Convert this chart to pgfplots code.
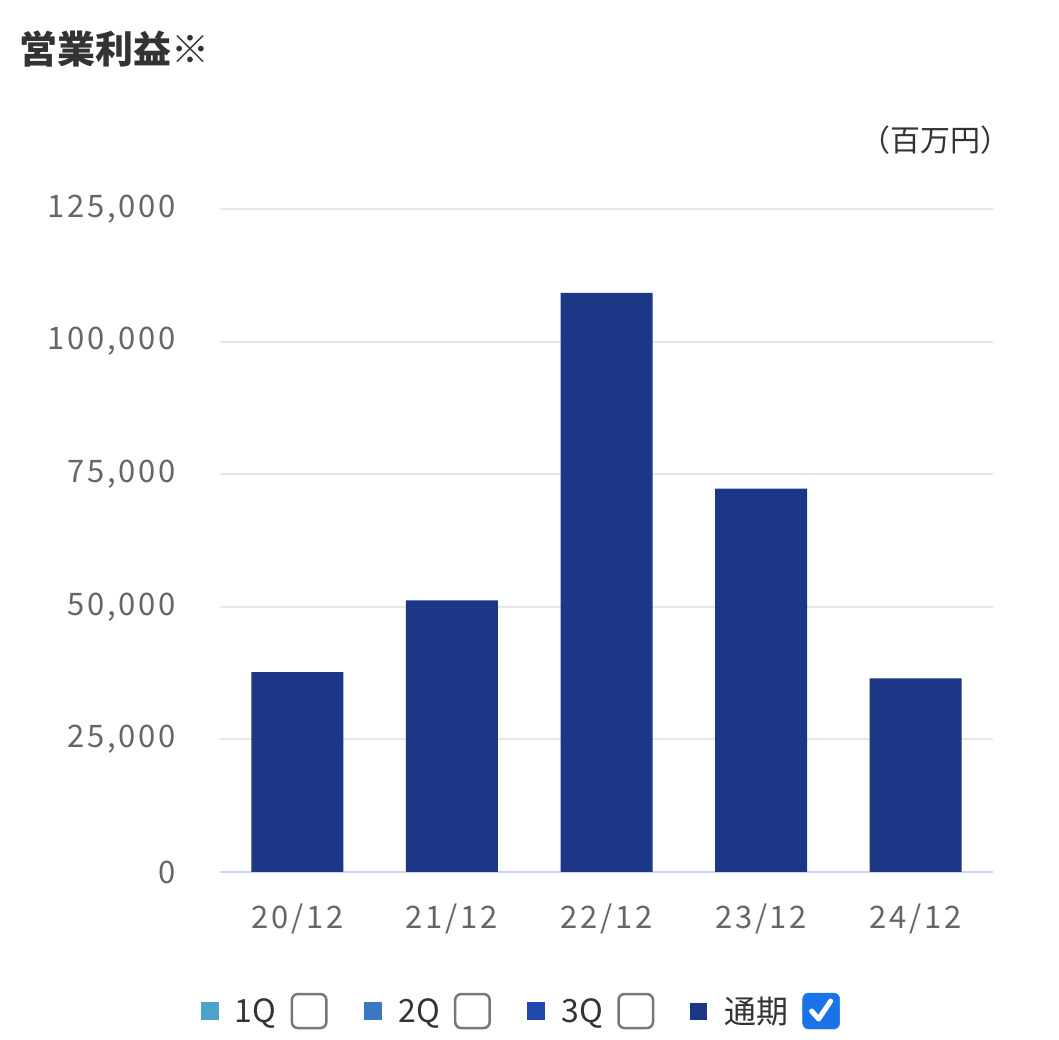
\documentclass[border=0pt]{standalone}
\usepackage{pgfplots}
\pgfplotsset{compat=1.18}
\usepackage{fontspec}
\setmainfont{Noto Sans CJK JP}
\newfontfamily\numfont[LetterSpace=9]{Noto Sans CJK JP}

\definecolor{barc}{HTML}{1B3786}
\definecolor{q1}{HTML}{4BA3C9}
\definecolor{q2}{HTML}{3A78C3}
\definecolor{q3}{HTML}{2148AE}
\definecolor{chk}{HTML}{1A73E8}
\definecolor{gridc}{HTML}{E6E6E6}
\definecolor{axc}{HTML}{CCD6EB}
\definecolor{lab}{HTML}{666666}
\definecolor{txt}{HTML}{333333}
\definecolor{boxc}{HTML}{777777}

\pgfplotsset{
  legsq/.style={legend image code/.code={
      \fill[#1] (0pt,-8.5pt) rectangle (17pt,8.5pt);
      \path (34pt,0pt);}},
  legbox/.style={legend image code/.code={
      \path (-14pt,0pt);
      \draw[boxc, line width=2.5pt, rounded corners=6pt] (1.25pt,-17pt) rectangle (35.75pt,17pt);
      \path (72pt,0pt);}},
  legchk/.style={legend image code/.code={
      \path (-14pt,0pt);
      \fill[chk, rounded corners=6pt] (0pt,-18pt) rectangle (37pt,18pt);
      \draw[white, line width=5pt, line cap=round, line join=round] (9pt,0pt) -- (16pt,-8pt) -- (28pt,10pt);}},
}

\pgfplotstableread{
x  y
0  37700
1  51200
2  109200
3  72300
4  36500
}\opdata

\begin{document}
\begin{tikzpicture}
\path[use as bounding box] (0pt,0pt) rectangle (1059pt,1040pt);
\node[anchor=west, text=txt, font=\fontsize{38}{42}\selectfont\bfseries, inner sep=0pt] at (19pt,991pt) {営業利益※};
\node[anchor=east, text=txt, font=\fontsize{30}{34}\selectfont, inner sep=0pt] at (1011pt,900pt) {（百万円）};
\begin{axis}[
  at={(220pt,168pt)}, anchor=south west,
  scale only axis,
  width=773pt, height=663pt,
  xmin=-0.5, xmax=4.5,
  ymin=0, ymax=125000,
  ytick={0,25000,50000,75000,100000,125000},
  yticklabels={0,{25,000},{50,000},{75,000},{100,000},{125,000}},
  xtick={0,1,2,3,4},
  xticklabels={20/12,21/12,22/12,23/12,24/12},
  scaled y ticks=false,
  axis x line=bottom, axis y line=left,
  y axis line style={draw=none},
  x axis line style={axc, line width=2.5pt, -},
  major tick length=0pt,
  ymajorgrids=true,
  grid style={gridc, line width=2pt},
  tick label style={text=lab, font=\numfont\fontsize{31}{34}\selectfont, inner sep=0pt},
  yticklabel style={anchor=east},
  yticklabel shift=44pt,
  xticklabel style={anchor=north},
  xticklabel shift=32pt,
  ybar, bar width=92pt,
  legend columns=8,
  legend style={at={(0.389,-0.2097)}, anchor=center, draw=none, fill=none,
    column sep=0pt, inner sep=0pt, text=txt,
    font=\fontsize{32}{34}\selectfont,
    nodes={inner sep=0pt}},
]
\addlegendimage{legsq=q1}
\addlegendentry{1Q}
\addlegendimage{legbox}
\addlegendentry{}
\addlegendimage{legsq=q2}
\addlegendentry{2Q}
\addlegendimage{legbox}
\addlegendentry{}
\addlegendimage{legsq=q3}
\addlegendentry{3Q}
\addlegendimage{legbox}
\addlegendentry{}
\addplot[fill=barc, draw=none, legsq=barc] table[x=x, y=y] {\opdata};
\addlegendentry{通期}
\addlegendimage{legchk}
\addlegendentry{}
\end{axis}
\end{tikzpicture}
\end{document}
